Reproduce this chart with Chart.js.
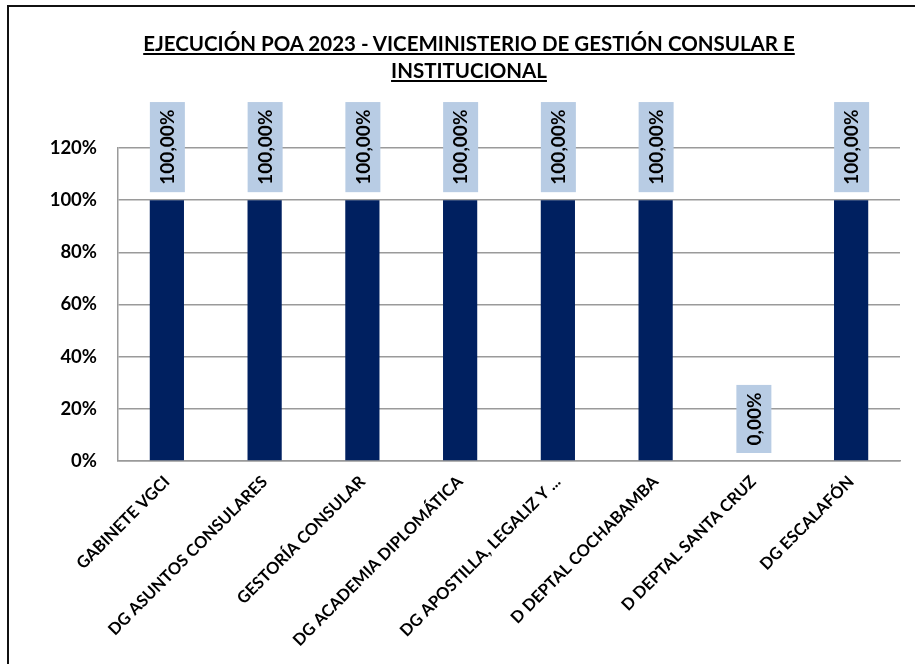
<!DOCTYPE html>
<html>
<head>
<meta charset="utf-8">
<script src="https://cdn.jsdelivr.net/npm/chart.js@4.4.0/dist/chart.umd.min.js"></script>
<style>
  html, body { margin: 0; padding: 0; background: #fff; overflow: hidden; width: 915px; height: 664px; }
  #frame { position: absolute; left: 7px; top: 5px; width: 920px; height: 680px; border: 2px solid #111; }
  #titulo { position: absolute; left: 0; top: 23px; width: 920px; text-align: center;
            font: bold 20.5px Lato, sans-serif; line-height: 27px; color: #000; text-decoration: underline; }
  canvas { position: absolute; left: 0; top: 0; }
</style>
</head>
<body>
<div id="frame">
  <canvas id="grafico" width="920" height="680"></canvas>
  <div id="titulo">EJECUCIÓN POA 2023 - VICEMINISTERIO DE GESTIÓN CONSULAR E<br>INSTITUCIONAL</div>
</div>
<script>
var categorias = ['GABINETE VGCI', 'DG ASUNTOS CONSULARES', 'GESTORÍA CONSULAR', 'DG ACADEMIA DIPLOMÁTICA',
                  'DG APOSTILLA, LEGALIZ Y ...', 'D DEPTAL COCHABAMBA', 'D DEPTAL SANTA CRUZ', 'DG ESCALAFÓN'];
var ejecucion = [100, 100, 100, 100, 100, 100, 0, 100];
var ticksY = [0, 20, 40, 60, 80, 100, 120];

// etiquetas verticales en caja celeste sobre cada barra
var etiquetas = {
    id: 'etiquetas',
    afterDatasetsDraw: function(chart) {
        var ctx = chart.ctx;
        var meta = chart.getDatasetMeta(0);
        ctx.save();
        ctx.font = 'bold 19px Lato, sans-serif';
        meta.data.forEach(function(bar, i) {
            var txt = ejecucion[i].toFixed(2).replace('.', ',') + '%';
            var w = ctx.measureText(txt).width;
            var alto = w + 15;
            var abajo = bar.y - 8;
            ctx.fillStyle = '#b8cce4';
            ctx.fillRect(bar.x - 17, abajo - alto, 35, alto);
            ctx.translate(bar.x, abajo - alto / 2);
            ctx.rotate(-Math.PI / 2);
            ctx.fillStyle = '#000';
            ctx.textAlign = 'center';
            ctx.textBaseline = 'middle';
            ctx.fillText(txt, 0, 1);
            ctx.setTransform(1, 0, 0, 1, 0, 0);
        });
        ctx.restore();
    }
};

new Chart(document.getElementById('grafico').getContext('2d'), {
    type: 'bar',
    data: {
        labels: categorias,
        datasets: [{
            data: ejecucion,
            backgroundColor: '#002060',
            borderWidth: 0,
            barPercentage: 0.35,
            categoryPercentage: 1
        }]
    },
    options: {
        responsive: false,
        animation: false,
        layout: { padding: { top: 141, right: 29, left: 0, bottom: 0 } },
        plugins: { legend: { display: false }, tooltip: { enabled: false } },
        scales: {
            y: {
                min: 0,
                max: 120,
                afterFit: function(s) { s.width = 109; },
                afterBuildTicks: function(s) { s.ticks = ticksY.map(function(v) { return { value: v }; }); },
                ticks: {
                    padding: 21,
                    color: '#000',
                    font: { family: 'Lato, sans-serif', size: 18.5, weight: 'bold' },
                    callback: function(v) { return v + '%'; }
                },
                grid: { color: '#9a9a9a', lineWidth: 1.5, drawTicks: false },
                border: { color: '#9a9a9a', width: 1.5 }
            },
            x: {
                afterFit: function(s) { s.height = 226; },
                ticks: {
                    minRotation: 45,
                    maxRotation: 45,
                    padding: 11,
                    color: '#000',
                    font: { family: 'Lato, sans-serif', size: 16.5, weight: 'bold' }
                },
                grid: { display: false, drawTicks: false },
                border: { color: '#9a9a9a', width: 1.5 }
            }
        }
    },
    plugins: [etiquetas]
});
</script>
</body>
</html>
